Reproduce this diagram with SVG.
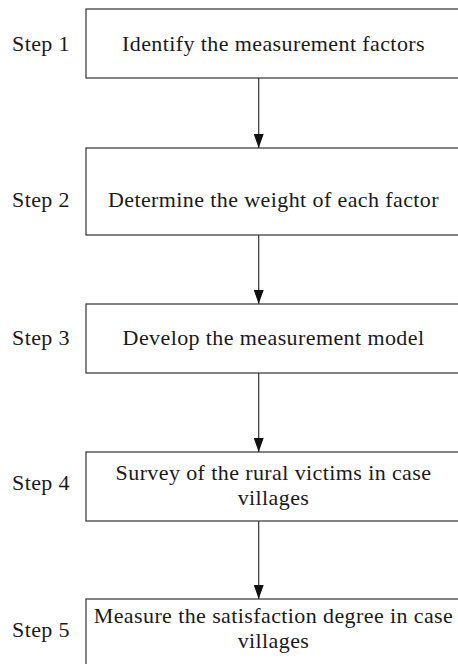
<svg xmlns="http://www.w3.org/2000/svg" width="458" height="664" viewBox="0 0 458 664">
  <style>
    .box { fill: #ffffff; stroke: #333333; stroke-width: 1.2; }
    .label { font-family: "Liberation Serif", "Times New Roman", serif; font-size: 22px; letter-spacing: 0.4px; fill: #1a1a1a; }
    .body { text-anchor: middle; }
    .edge { stroke: #333333; stroke-width: 1.2; fill: none; marker-end: url(#arrow); }
  </style>
  <defs>
    <marker id="arrow" viewBox="0 0 14 10" refX="14" refY="5" markerWidth="14" markerHeight="10" markerUnits="userSpaceOnUse" orient="auto">
      <path d="M0,0 L14,5 L0,10 Z" fill="#111111"/>
    </marker>
  </defs>
  <rect width="458" height="664" fill="#ffffff"/>

  <g id="connectors">
    <line class="edge" x1="258.7" y1="78" x2="258.7" y2="148"/>
    <line class="edge" x1="258.7" y1="235" x2="258.7" y2="304"/>
    <line class="edge" x1="258.7" y1="373" x2="258.7" y2="452"/>
    <line class="edge" x1="258.7" y1="521" x2="258.7" y2="599"/>
  </g>

  <g id="step1">
    <rect class="box" x="86" y="9" width="375" height="69"/>
    <text class="label" x="12" y="51">Step 1</text>
    <text class="label body" x="273.5" y="51">Identify the measurement factors</text>
  </g>
  <g id="step2">
    <rect class="box" x="86" y="148" width="375" height="87"/>
    <text class="label" x="12" y="207">Step 2</text>
    <text class="label body" x="273.5" y="207">Determine the weight of each factor</text>
  </g>
  <g id="step3">
    <rect class="box" x="86" y="304" width="375" height="69"/>
    <text class="label" x="12" y="345">Step 3</text>
    <text class="label body" x="273.5" y="345">Develop the measurement model</text>
  </g>
  <g id="step4">
    <rect class="box" x="86" y="452" width="375" height="69"/>
    <text class="label" x="12" y="490">Step 4</text>
    <text class="label body" x="273.5" y="480">Survey of the rural victims in case</text>
    <text class="label body" x="273.5" y="505">villages</text>
  </g>
  <g id="step5">
    <rect class="box" x="86" y="599" width="375" height="70"/>
    <text class="label" x="12" y="637">Step 5</text>
    <text class="label body" x="273.5" y="623">Measure the satisfaction degree in case</text>
    <text class="label body" x="273.5" y="648">villages</text>
  </g>
</svg>
